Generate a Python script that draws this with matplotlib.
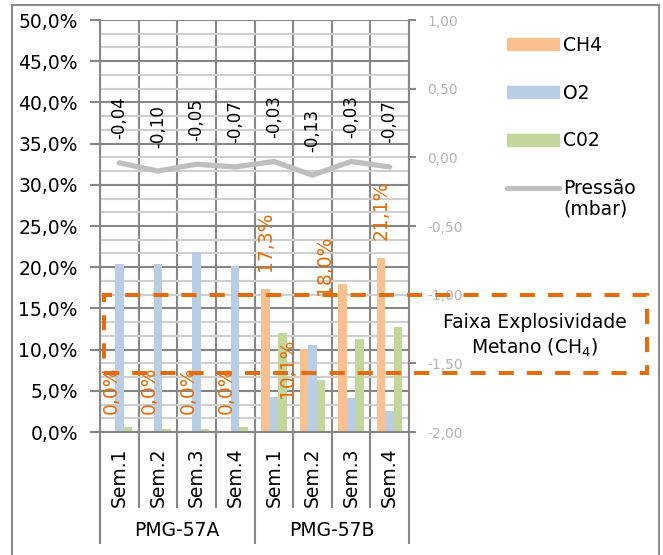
import numpy as np
import matplotlib
matplotlib.use('Agg')
import matplotlib.pyplot as plt
import matplotlib.transforms as mtransforms
from matplotlib.patches import Rectangle, Patch
from matplotlib.lines import Line2D

# dados
semanas = ['Sem.1', 'Sem.2', 'Sem.3', 'Sem.4', 'Sem.1', 'Sem.2', 'Sem.3', 'Sem.4']
grupos = ['PMG-57A', 'PMG-57B']
ch4 = [0.0, 0.0, 0.0, 0.0, 17.3, 10.1, 18.0, 21.1]
o2 = [20.4, 20.4, 21.9, 20.2, 4.2, 10.6, 4.1, 2.6]
co2 = [0.6, 0.4, 0.4, 0.6, 12.0, 6.3, 11.3, 12.8]
pressao = [-0.04, -0.10, -0.05, -0.07, -0.03, -0.13, -0.03, -0.07]

ticks_esq = [0, 5, 10, 15, 20, 25, 30, 35, 40, 45, 50]
ticks_dir = [-2.0, -1.5, -1.0, -0.5, 0.0, 0.5, 1.0]

cor_ch4 = '#fac090'
cor_o2 = '#b9cde5'
cor_co2 = '#c3d69b'
cor_pres = '#bfbfbf'
laranja = '#e46c0a'
cinza = '#878787'
cinza_claro = '#cfcfcf'

W, H = 663, 555
def px(x, y):
    # pixel -> fracao da figura
    return x / W, 1 - y / H

fs = 13.5
plt.rcParams['font.family'] = 'DejaVu Sans'

fig = plt.figure(figsize=(6.63, 5.55), dpi=100)
ax = fig.add_axes([100 / W, 1 - 432 / H, 309 / W, 412 / H])
ax2 = ax.twinx()

x = np.arange(len(semanas))
larg = 0.22
ax.bar(x - larg, ch4, larg, color=cor_ch4, zorder=2)
ax.bar(x, o2, larg, color=cor_o2, zorder=2)
ax.bar(x + larg, co2, larg, color=cor_co2, zorder=2)

ax.set_xlim(-0.5, len(semanas) - 0.5)
ax.set_ylim(0, 50)
ax.set_yticks(ticks_esq)
ax.set_yticklabels([f'{v:.1f}%'.replace('.', ',') for v in ticks_esq], fontsize=fs)
ax.set_yticks(np.arange(0, 50, 5 / 3), minor=True)
ax.set_xticks(x)
ax.set_xticklabels(semanas, rotation=90, fontsize=fs, va='top')
ax.set_xticks(np.arange(-0.5, len(semanas), 1), minor=True)
ax.tick_params(axis='x', which='both', length=0, pad=11)
ax.tick_params(axis='y', which='major', length=7, width=1.5, color=cinza, pad=9)
ax.tick_params(axis='y', which='minor', length=0)

ax.set_axisbelow(True)
ax.yaxis.grid(True, which='major', color=cinza, lw=1.5)
ax.yaxis.grid(True, which='minor', color=cinza_claro, lw=1.5)
ax.xaxis.grid(True, which='minor', color=cinza, lw=1.5)
ax.xaxis.grid(False, which='major')
for s in ['top', 'right']:
    ax.spines[s].set_visible(False)
for s in ['left', 'bottom']:
    ax.spines[s].set_color(cinza)
    ax.spines[s].set_linewidth(1.5)

# rotulos CH4
ajuste = {5: (-16, -49), 6: (-18, -11)}
for i, v in enumerate(ch4):
    dx, dy = ajuste.get(i, (0, 18))
    ax.annotate(f'{v:.1f}%'.replace('.', ','), (x[i] - larg, v),
                xytext=(dx * 0.72, dy * 0.72), textcoords='offset points',
                rotation=90, ha='center', va='bottom', color=laranja,
                fontsize=fs, zorder=5)

# pressao no eixo secundario
ax2.plot(x, pressao, color=cor_pres, lw=3.8, solid_capstyle='round', zorder=3)
ax2.set_ylim(-2, 1)
ax2.set_yticks(ticks_dir)
ax2.set_yticklabels([f'{v:.2f}'.replace('.', ',') for v in ticks_dir],
                    fontsize=10, color='#b4b4b4')
ax2.tick_params(axis='y', length=5, width=1.5, color=cinza, pad=8)
for s in ['top', 'left', 'bottom']:
    ax2.spines[s].set_visible(False)
ax2.spines['right'].set_color(cinza)
ax2.spines['right'].set_linewidth(1.5)
for i, v in enumerate(pressao):
    ax2.annotate(f'{v:.2f}'.replace('.', ','), (x[i], v),
                 xytext=(0, 23.5 * 0.72), textcoords='offset points',
                 rotation=90, ha='center', va='bottom', fontsize=12)

# separadores das categorias e grupos
trans = mtransforms.blended_transform_factory(ax.transData, ax.transAxes)
for b in np.arange(-0.5, len(semanas), 1):
    longo = b in (-0.5, 3.5, len(semanas) - 0.5)
    y1 = -(543 - 432) / 412 if longo else -(507 - 432) / 412
    ax.add_line(Line2D([b, b], [0, y1], transform=trans, color=cinza,
                       lw=1.5, clip_on=False))
for g, nome in enumerate(grupos):
    ax.text(1.5 + 4 * g, -(531 - 432) / 412, nome, transform=trans,
            ha='center', va='center', fontsize=fs)

# legenda
handles = [Patch(color=cor_ch4), Patch(color=cor_o2), Patch(color=cor_co2),
           Line2D([], [], color=cor_pres, lw=3.8, solid_capstyle='round')]
leg = fig.legend(handles, ['CH4', 'O2', 'C02', 'Pressão'],
                 loc='upper left', bbox_to_anchor=px(507, 36),
                 frameon=False, fontsize=fs, borderpad=0, borderaxespad=0,
                 handlelength=2.77, handleheight=0.6, handletextpad=0.22,
                 labelspacing=1.53)
fig.canvas.draw()
bb = leg.get_texts()[3].get_window_extent()
fig.text(bb.x0 / W, (bb.y0 - 1) / H, '(mbar)', ha='left', va='top', fontsize=fs)

# faixa de explosividade
x0, y0 = px(104, 372.7)
x1, y1 = px(647, 295)
fig.add_artist(Rectangle((x0, y0), x1 - x0, y1 - y0, transform=fig.transFigure,
                         fill=False, edgecolor=laranja, lw=2.9,
                         linestyle=(0, (3.75, 3.25)), zorder=10))
fig.text(*px(535, 322), 'Faixa Explosividade', ha='center', va='center', fontsize=fs)
fig.text(*px(535, 348), 'Metano (CH$_4$)', ha='center', va='center', fontsize=fs)

# borda do grafico
bx0, by0 = px(12, 600)
bx1, by1 = px(659, 5)
fig.add_artist(Rectangle((bx0, by0), bx1 - bx0, by1 - by0, transform=fig.transFigure,
                         fill=False, edgecolor='#8c8c8c', lw=1.5))

fig.savefig('out.png', dpi=100)
